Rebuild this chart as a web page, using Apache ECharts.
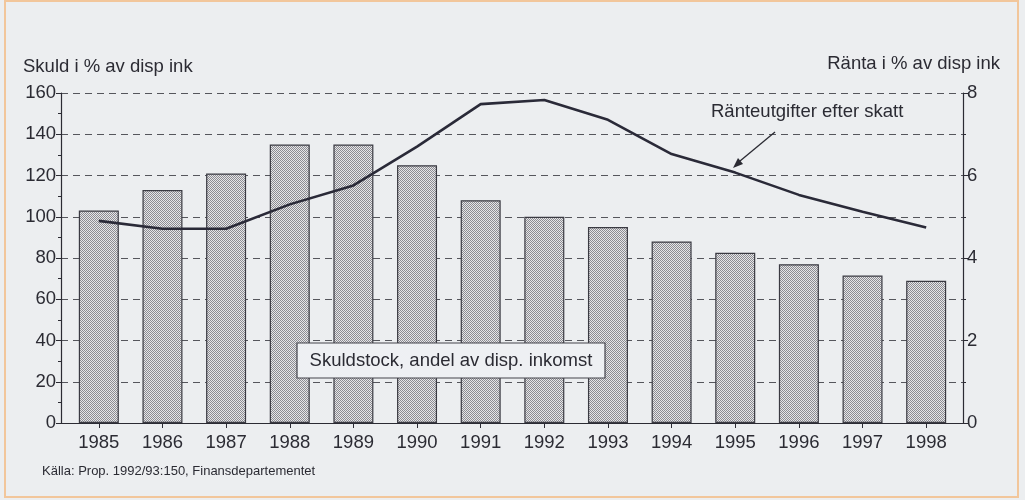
<!DOCTYPE html>
<html><head><meta charset="utf-8">
<script src="https://cdn.jsdelivr.net/npm/echarts@6/dist/echarts.min.js"></script>
<style>html,body{margin:0;padding:0;background:#eceef0;}#c{width:1025px;height:500px;}</style>
</head><body><div id="c"></div>
<script>
const years = ['1985','1986','1987','1988','1989','1990','1991','1992','1993','1994','1995','1996','1997','1998'];
const debtShare = [103,113,121,135,135,125,108,100,95,88,82.5,77,71.5,69];
const interestCost = [4.9,4.71,4.71,5.3,5.76,6.7,7.73,7.83,7.35,6.52,6.07,5.53,5.12,4.74];
const leftTicks = {min:0, max:160, interval:20};
const rightTicks = {min:0, max:8, interval:2};

const FONT = '"Liberation Sans", Arial, sans-serif';
const INK = '#2b2b33';

// stipple pattern for bars
const pc = document.createElement('canvas');
pc.width = 2; pc.height = 2;
const px = pc.getContext('2d');
px.fillStyle = '#e6e6e8'; px.fillRect(0,0,2,2);
px.fillStyle = '#8c8c92'; px.fillRect(0,0,1,1); px.fillRect(1,1,1,1);

const chart = echarts.init(document.getElementById('c'), null, {renderer:'canvas'});
const gridTop = 93, gridBottom = 77;
const axisLabel = {color: INK, fontFamily: FONT, fontSize: 18.5};
chart.setOption({
  backgroundColor: '#eceef0',
  animation: false,
  grid: [
    {left: 61, right: 62, top: gridTop, bottom: gridBottom},
    {left: 67, right: 67, top: gridTop, bottom: gridBottom}
  ],
  xAxis: [
    {type:'category', gridIndex:0, data: years,
     axisLine:{show:true, lineStyle:{color:INK, width:1.2}},
     axisTick:{show:false}, axisLabel:{show:false}, splitLine:{show:false}},
    {type:'category', gridIndex:1, data: years,
     axisLine:{show:false},
     axisTick:{show:true, alignWithLabel:true, length:5, lineStyle:{color:INK}},
     axisLabel:Object.assign({margin:10}, axisLabel)}
  ],
  yAxis: [
    {type:'value', gridIndex:0, position:'left', min:leftTicks.min, max:leftTicks.max, interval:leftTicks.interval,
     axisLine:{show:true, lineStyle:{color:INK, width:1.2}},
     axisTick:{show:true, length:5, lineStyle:{color:INK}},
     minorTick:{show:true, splitNumber:2, length:3, lineStyle:{color:INK}},
     axisLabel:Object.assign({margin:5}, axisLabel),
     splitLine:{show:true, lineStyle:{color:'#55565c', width:1, type:[7,5]}}},
    {type:'value', gridIndex:0, position:'right', min:rightTicks.min, max:rightTicks.max, interval:rightTicks.interval,
     axisLine:{show:true, lineStyle:{color:INK, width:1.2}},
     axisTick:{show:true, length:5, lineStyle:{color:INK}},
     minorTick:{show:true, splitNumber:2, length:3, lineStyle:{color:INK}},
     axisLabel:Object.assign({margin:4}, axisLabel),
     splitLine:{show:false}},
    {type:'value', gridIndex:1, min:leftTicks.min, max:leftTicks.max, show:false, splitLine:{show:false}},
    {type:'value', gridIndex:1, min:rightTicks.min, max:rightTicks.max, show:false, splitLine:{show:false}}
  ],
  series: [
    {type:'bar', xAxisIndex:1, yAxisIndex:2, data: debtShare, barWidth: 40,
     itemStyle:{color:{image: pc, repeat:'repeat'}, borderColor:'#3a3a42', borderWidth:1.2}},
    {type:'line', xAxisIndex:1, yAxisIndex:3, data: interestCost, showSymbol:false, symbol:'none',
     lineStyle:{color:'#2a2a38', width:2.6}, z:5}
  ],
  graphic: [
    {type:'rect', shape:{x:5, y:1, width:1013, height:496}, style:{fill:'none', stroke:'#f2c69b', lineWidth:2}, z:-1},
    {type:'text', left:23, top:57, style:{text:'Skuld i % av disp ink', font:'18.5px ' + FONT, fill:INK}},
    {type:'text', right:25, top:54, style:{text:'Ränta i % av disp ink', font:'18.5px ' + FONT, fill:INK}},
    {type:'text', left:711, top:102, style:{text:'Ränteutgifter efter skatt', font:'18.5px ' + FONT, fill:INK}},
    {type:'line', shape:{x1:775, y1:132, x2:740, y2:161}, style:{stroke:INK, lineWidth:1.3}, z:100},
    {type:'polygon', shape:{points:[[733,168],[743,164],[738,158]]}, style:{fill:INK}, z:100},
    {type:'rect', shape:{x:297, y:343, width:308, height:35}, style:{fill:'#eef0f3', stroke:'#44444c', lineWidth:1.2}, z:100},
    {type:'text', x:451, y:361, style:{text:'Skuldstock, andel av disp. inkomst', font:'18.5px ' + FONT, fill:INK, textAlign:'center', textVerticalAlign:'middle'}, z:101},
    {type:'text', left:42, top:465, style:{text:'Källa: Prop. 1992/93:150, Finansdepartementet', font:'13px ' + FONT, fill:INK}}
  ]
});
</script></body></html>
